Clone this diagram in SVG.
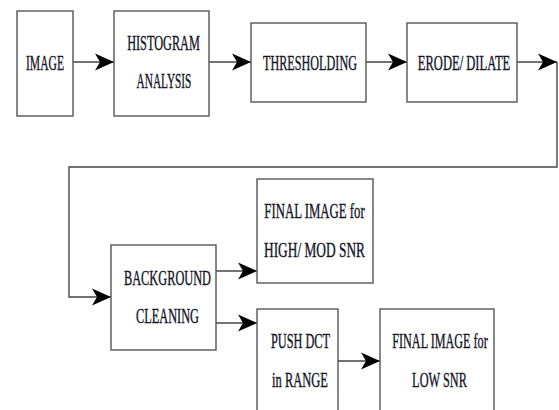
<svg xmlns="http://www.w3.org/2000/svg" width="559" height="410" viewBox="0 0 559 410">
<style>
.box{fill:#fff;stroke:#555;stroke-width:1.4}
.t{font-family:"Liberation Serif","DejaVu Serif",serif;font-size:22px;fill:#151525;stroke:#151525;stroke-width:0.4;text-anchor:middle}
.c{fill:none;stroke:#444;stroke-width:1.4}
</style>
<defs>
<marker id="ah" markerUnits="userSpaceOnUse" markerWidth="22" markerHeight="18" refX="19" refY="8.5" orient="auto" overflow="visible">
<path d="M0,0 L19,8.5 L0,17 L5,8.5 Z" fill="#000"/>
</marker>
</defs>
<rect width="559" height="410" fill="#fff"/>
<g id="connectors">
<path class="c" d="M73,62 H114" marker-end="url(#ah)"/>
<path class="c" d="M209,62 H251" marker-end="url(#ah)"/>
<path class="c" d="M366,62 H407" marker-end="url(#ah)"/>
<path class="c" d="M517,62 H557" marker-end="url(#ah)"/>
<path class="c" d="M557,62 V167 H69 V297 H111" marker-end="url(#ah)"/>
<path class="c" d="M216,271 H257" marker-end="url(#ah)"/>
<path class="c" d="M216,323 H257" marker-end="url(#ah)"/>
<path class="c" d="M338,361 H380" marker-end="url(#ah)"/>
</g>
<g id="image">
<rect class="box" x="17" y="11" width="56" height="105"/>
<text class="t" transform="translate(45,70) scale(0.527,1)">IMAGE</text>
</g>
<g id="histogram">
<rect class="box" x="114" y="11" width="95" height="105"/>
<text class="t" transform="translate(163.5,50) scale(0.558,1)">HISTOGRAM</text>
<text class="t" transform="translate(164,88) scale(0.515,1)">ANALYSIS</text>
</g>
<g id="thresholding">
<rect class="box" x="251" y="23" width="115" height="79"/>
<text class="t" transform="translate(310,70) scale(0.553,1)">THRESHOLDING</text>
</g>
<g id="erode">
<rect class="box" x="407" y="23" width="110" height="79"/>
<text class="t" transform="translate(464,70) scale(0.572,1)">ERODE/ DILATE</text>
</g>
<g id="background">
<rect class="box" x="111" y="245" width="105" height="105"/>
<text class="t" transform="translate(167.5,285) scale(0.561,1)">BACKGROUND</text>
<text class="t" transform="translate(167.5,323) scale(0.56,1)">CLEANING</text>
</g>
<g id="final-high">
<rect class="box" x="257" y="179" width="116" height="104"/>
<text class="t" transform="translate(314.5,218) scale(0.582,1)">FINAL IMAGE for</text>
<text class="t" transform="translate(314.5,257) scale(0.608,1)">HIGH/ MOD SNR</text>
</g>
<g id="push-dct">
<rect class="box" x="257" y="309" width="81" height="115"/>
<text class="t" transform="translate(300.5,348) scale(0.558,1)">PUSH DCT</text>
<text class="t" transform="translate(300,387) scale(0.569,1)">in RANGE</text>
</g>
<g id="final-low">
<rect class="box" x="380" y="309" width="114" height="115"/>
<text class="t" transform="translate(440,348) scale(0.553,1)">FINAL IMAGE for</text>
<text class="t" transform="translate(439.5,387) scale(0.559,1)">LOW SNR</text>
</g>
</svg>
